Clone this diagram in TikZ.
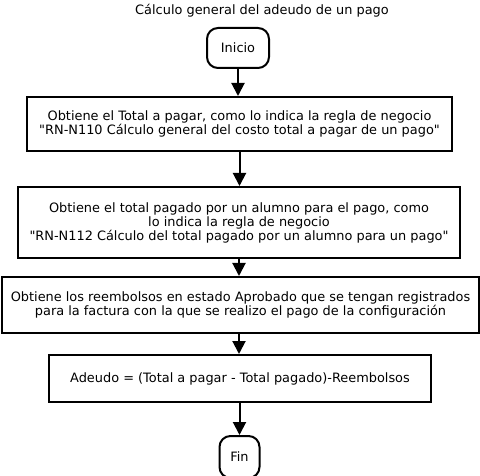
\documentclass[tikz,border=0pt]{standalone}
\usepackage{fontspec}
\setmainfont{DejaVu Sans}
\usetikzlibrary{arrows.meta}

\begin{document}
\begin{tikzpicture}[
    x=1pt, y=-1pt,
    font=\fontsize{12.9}{14}\selectfont,
    box/.style={rectangle, draw, line width=2pt, align=center, inner sep=0pt},
    terminal/.style={rectangle, draw, line width=2pt, rounded corners=11pt, align=center, inner sep=0pt},
    arrow/.style={-{Triangle[length=13pt, width=13pt]}, line width=2pt}
]
\useasboundingbox (0,0) rectangle (480,476);

\node (title) at (262,11) {Cálculo general del adeudo de un pago};
\node[terminal, minimum width=62pt, minimum height=40pt] (inicio) at (238,48) {Inicio};
\node[box, minimum width=425pt, minimum height=54pt] (total) at (239.5,124) {Obtiene el Total a pagar, como lo indica la regla de negocio\\\textquotedbl RN-N110 Cálculo general del costo total a pagar de un pago\textquotedbl};
\node[box, minimum width=442pt, minimum height=71pt] (pagado) at (239,222.5) {Obtiene el total pagado por un alumno para el pago, como\\lo indica la regla de negocio\\\textquotedbl RN-N112 Cálculo del total pagado por un alumno para un pago\textquotedbl};
\node[box, minimum width=477pt, minimum height=56pt] (reemb) at (240.5,305) {Obtiene los reembolsos en estado Aprobado que se tengan registrados\\para la factura con la que se realizo el pago de la configuración};
\node[box, minimum width=382pt, minimum height=47pt] (adeudo) at (240,378.5) {Adeudo = (Total a pagar - Total pagado)-Reembolsos};
\node[terminal, minimum width=40pt, minimum height=42pt] (fin) at (239.5,457) {Fin};

\draw[arrow] (inicio) -- (inicio |- total.north);
\draw[arrow] (total) -- (total |- pagado.north);
\draw[arrow] (pagado) -- (pagado |- reemb.north);
\draw[arrow] (pagado |- reemb.south) -- (pagado |- adeudo.north);
\draw[arrow] (fin |- adeudo.south) -- (fin);

\end{tikzpicture}
\end{document}
